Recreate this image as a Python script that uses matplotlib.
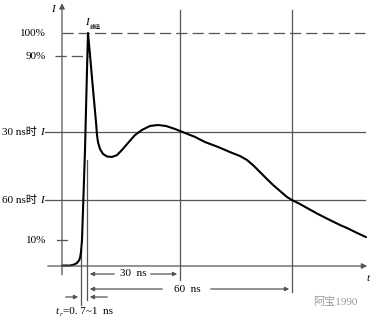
import matplotlib
matplotlib.use("Agg")
import matplotlib.pyplot as plt

plt.rcParams['font.family'] = ['Liberation Serif', 'Noto Sans CJK SC', 'DejaVu Sans']

# 电流波形（横轴为示意位置，纵轴为峰值百分比）
curve_x = [62, 70, 74, 77, 79, 80, 81, 82, 83, 84, 85, 86, 87, 88,
           90, 92, 94, 96, 97, 98, 100, 103, 107, 112, 117, 122, 128, 135,
           142, 150, 158, 166, 175, 185, 195, 205, 218, 230, 240, 247, 254,
           260, 267, 273, 280, 287, 292, 300, 307, 318, 330, 340, 347, 357, 366]
curve_pct = [0.2, 0.2, 0.6, 1.3, 2.4, 3.4, 6.0, 11.2, 24.0, 36.9, 49.8, 67.0, 84.1, 100.0,
             90.6, 80.7, 71.2, 61.8, 56.2, 53.2, 50.2, 48.1, 47.0, 46.8, 47.6, 49.8, 52.8, 56.2,
             58.4, 60.1, 60.5, 60.1, 58.8, 57.1, 55.4, 53.2, 51.1, 48.9, 47.2, 45.5, 42.9,
             40.3, 37.3, 34.8, 32.2, 29.6, 28.3, 26.6, 24.9, 22.3, 19.7, 17.6, 16.3, 14.2, 12.4]

pct_labels = ['100%', '90%', '10%']
pct_levels = [100, 90, 11]
ns_labels = ['30 ns时', '60 ns时']
ns_levels = [57.5, 28.3]

x_t0, x_peak, x_30, x_60 = 81, 87, 180, 292
y_px0 = 266
px = 100 / 233.0

fig = plt.figure(figsize=(3.78, 3.19), dpi=100)
ax = fig.add_axes([0, 0, 1, 1])
ax.set_xlim(0, 378)
ax.set_ylim(-(319 - y_px0) * px, y_px0 * px)
ax.axis('off')

gc = '#555555'
lw = 0.9
fs = 8

# 坐标轴
ax.annotate('', xy=(62, 114), xytext=(62, -5),
            arrowprops=dict(arrowstyle='-|>', color=gc, lw=lw, mutation_scale=8))
ax.annotate('', xy=(370, 0), xytext=(45, 0),
            arrowprops=dict(arrowstyle='-|>', color=gc, lw=lw, mutation_scale=8))
ax.text(53, 112, 'I', fontsize=fs, style='italic', ha='center', va='top')
ax.text(368, -3.5, 't', fontsize=fs, style='italic', ha='center', va='top')

# 水平参考线
ax.plot([62, 365], [pct_levels[0]] * 2, color=gc, lw=lw, dashes=(9, 4))
ax.plot([55, 88], [pct_levels[1]] * 2, color=gc, lw=lw, dashes=(9, 4))
ax.plot([57, 67], [pct_levels[2]] * 2, color=gc, lw=lw)
for lab, p in zip(pct_labels, pct_levels):
    ax.text(46, p, lab, fontsize=fs, ha='right', va='center')

for lab, p in zip(ns_labels, ns_levels):
    ax.plot([45, 365], [p, p], color=gc, lw=lw)
    ax.text(2, p, lab, fontsize=fs, ha='left', va='center')
    ax.text(40, p, 'I', fontsize=fs, style='italic', ha='left', va='center')

# 竖直参考线
ax.plot([x_t0, x_t0], [(y_px0 - 250) * px, (y_px0 - 305) * px], color=gc, lw=lw)
ax.plot([x_peak, x_peak], [(y_px0 - 160) * px, (y_px0 - 300) * px], color=gc, lw=lw)
ax.plot([x_30, x_30], [(y_px0 - 10) * px, (y_px0 - 280) * px], color=gc, lw=lw)
ax.plot([x_60, x_60], [(y_px0 - 10) * px, (y_px0 - 292) * px], color=gc, lw=lw)

# 波形
ax.plot(curve_x, curve_pct, color='black', lw=1.5, solid_joinstyle='round',
        solid_capstyle='round')

ax.text(85, 104.5, 'I', fontsize=fs, style='italic', ha='left', va='center')
ax.text(89.5, 102.5, '峰值', fontsize=4, ha='left', va='center')

# 时间标注
arr = dict(arrowstyle='-|>', color=gc, lw=lw, mutation_scale=6)
y30 = (y_px0 - 274) * px
y60 = (y_px0 - 289) * px
ytr = (y_px0 - 297) * px
ax.annotate('', xy=(x_peak, y30), xytext=(117, y30), arrowprops=arr)
ax.annotate('', xy=(x_30, y30), xytext=(148, y30), arrowprops=arr)
ax.text(133, y30, '30  ns', fontsize=fs, ha='center', va='center')
ax.annotate('', xy=(x_peak, y60), xytext=(165, y60), arrowprops=arr)
ax.annotate('', xy=(x_60, y60), xytext=(208, y60), arrowprops=arr)
ax.text(187, y60, '60  ns', fontsize=fs, ha='center', va='center')
ax.annotate('', xy=(x_t0, ytr), xytext=(63, ytr), arrowprops=arr)
ax.annotate('', xy=(x_peak, ytr), xytext=(110, ytr), arrowprops=arr)
ax.text(56, (y_px0 - 312) * px, 't', fontsize=fs, style='italic', ha='left', va='center')
ax.text(59.5, (y_px0 - 314) * px, 'r', fontsize=5, style='italic', ha='left', va='center')
ax.text(63, (y_px0 - 312) * px, '=0. 7~1  ns', fontsize=fs, ha='left', va='center')

ax.text(335, (y_px0 - 302) * px, '阿宝1990', fontsize=fs, color='#999999',
        ha='center', va='center')

fig.savefig('out.png', dpi=100)
